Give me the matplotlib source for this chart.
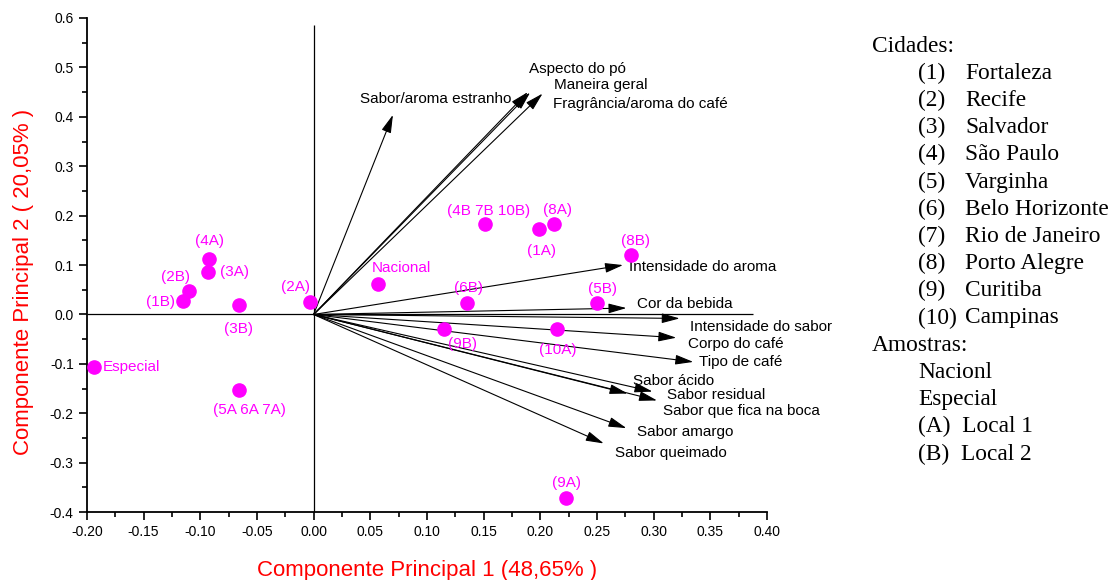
import matplotlib
matplotlib.use("Agg")
import matplotlib.pyplot as plt
from matplotlib.ticker import MultipleLocator

# ---------------- data ----------------
sample_names = ["Especial", "(1B)", "(2B)", "(4A)", "(3A)", "(3B)", "(2A)",
                "(5A 6A 7A)", "Nacional", "(4B 7B 10B)", "(1A)", "(8A)", "(8B)",
                "(6B)", "(5B)", "(9B)", "(10A)", "(9A)"]
sample_pc1 = [-0.194, -0.115, -0.110, -0.092, -0.093, -0.066, -0.003,
              -0.066, 0.057, 0.151, 0.199, 0.212, 0.280,
              0.135, 0.250, 0.115, 0.215, 0.223]
sample_pc2 = [-0.107, 0.027, 0.048, 0.113, 0.085, 0.019, 0.025,
              -0.152, 0.061, 0.184, 0.172, 0.184, 0.120,
              0.024, 0.023, -0.030, -0.030, -0.371]

attr_names = ["Sabor/aroma estranho", "Aspecto do pó", "Maneira geral",
              "Fragrância/aroma do café", "Intensidade do aroma", "Cor da bebida",
              "Intensidade do sabor", "Corpo do café", "Tipo de café",
              "Sabor ácido", "Sabor residual", "Sabor que fica na boca",
              "Sabor amargo", "Sabor queimado"]
attr_pc1 = [0.070, 0.189, 0.191, 0.202, 0.273, 0.276, 0.323, 0.320, 0.335,
            0.277, 0.299, 0.303, 0.276, 0.256]
attr_pc2 = [0.404, 0.450, 0.449, 0.447, 0.100, 0.013, -0.008, -0.047, -0.096,
            -0.160, -0.156, -0.174, -0.230, -0.261]

cities = ["(1)", "(2)", "(3)", "(4)", "(5)", "(6)", "(7)", "(8)", "(9)", "(10)"]
city_names = ["Fortaleza", "Recife", "Salvador", "São Paulo", "Varginha",
              "Belo Horizonte", "Rio de Janeiro", "Porto Alegre", "Curitiba", "Campinas"]
samples_legend = ["Nacionl", "Especial", "(A)  Local 1", "(B)  Local 2"]

xlabel = "Componente Principal 1 (48,65% )"
ylabel = "Componente Principal 2 ( 20,05% )"

# ---------------- label placement (style) ----------------
sample_lab_pos = [(-0.186, -0.107, "left"), (-0.135, 0.025, "center"), (-0.122, 0.076, "center"),
                  (-0.0915, 0.149, "center"), (-0.083, 0.085, "left"), (-0.066, -0.030, "center"),
                  (-0.016, 0.055, "center"), (-0.057, -0.193, "center"), (0.0512, 0.095, "left"),
                  (0.154, 0.209, "center"), (0.201, 0.128, "center"), (0.2154, 0.211, "center"),
                  (0.2836, 0.149, "center"), (0.137, 0.053, "center"), (0.255, 0.051, "center"),
                  (0.1315, -0.060, "center"), (0.2154, -0.0715, "center"), (0.2227, -0.341, "center")]
attr_lab_pos = [(0.041, 0.436), (0.190, 0.497), (0.212, 0.464), (0.2115, 0.425),
                (0.2786, 0.097), (0.2856, 0.021), (0.332, -0.025), (0.3306, -0.060),
                (0.340, -0.097), (0.282, -0.134), (0.312, -0.162), (0.3086, -0.195),
                (0.2856, -0.237), (0.266, -0.280)]

MAG = "#FF00FF"
SANS = ["Liberation Sans", "DejaVu Sans"]
SERIF = ["Liberation Serif", "DejaVu Serif"]

fig = plt.figure(figsize=(11.14, 5.80), dpi=100)
ax = fig.add_axes([0.078, 0.117, 0.6105, 0.852])

ax.set_xlim(-0.20, 0.40)
ax.set_ylim(-0.40, 0.60)

# zero reference lines
ax.vlines(0, -0.40, 0.586, color="black", lw=0.9, zorder=1)
ax.hlines(0, -0.20, 0.388, color="black", lw=0.9, zorder=1)

# loading arrows
for x, y in zip(attr_pc1, attr_pc2):
    ax.annotate("", xy=(x, y), xytext=(0, 0),
                arrowprops=dict(arrowstyle="-|>,head_length=1.1,head_width=0.3",
                                color="black", lw=0.8, shrinkA=0, shrinkB=0,
                                mutation_scale=10), zorder=2)
for name, (lx, ly) in zip(attr_names, attr_lab_pos):
    ax.text(lx, ly, name, ha="left", va="center", fontsize=11, family=SANS, color="black")

# samples
ax.plot(sample_pc1, sample_pc2, "o", color=MAG, ms=9.5, zorder=3, clip_on=False)
for name, (lx, ly, ha) in zip(sample_names, sample_lab_pos):
    ax.text(lx, ly, name, ha=ha, va="center", fontsize=11, family=SANS, color=MAG)

# axes style
for s in ["top", "right"]:
    ax.spines[s].set_visible(False)
for s in ["left", "bottom"]:
    ax.spines[s].set_linewidth(1.3)
ax.xaxis.set_major_locator(MultipleLocator(0.05))
ax.xaxis.set_minor_locator(MultipleLocator(0.025))
ax.yaxis.set_major_locator(MultipleLocator(0.1))
ax.yaxis.set_minor_locator(MultipleLocator(0.05))
ax.tick_params(which="major", direction="out", length=6, width=1.2, labelsize=10)
ax.tick_params(which="minor", direction="out", length=3.5, width=1.2)
ax.set_xticklabels([f"{v:.2f}" for v in ax.get_xticks()], family=SANS)
ax.set_yticklabels([f"{v:.1f}" for v in ax.get_yticks()], family=SANS)
ax.set_xlabel(xlabel, color="red", fontsize=16, family=SANS)
ax.set_ylabel(ylabel, color="red", fontsize=16, family=SANS)
ax.xaxis.set_label_coords(0.5, -0.097)
ax.yaxis.set_label_coords(-0.078, 0.466)

# legend text block
fs = 16.8
lh = 27.2 / 580
y0 = 1 - 46 / 580
fig.text(872 / 1114, y0, "Cidades:", ha="left", va="center", fontsize=fs, family=SERIF)
for i, (c, n) in enumerate(zip(cities, city_names)):
    yy = y0 - (i + 1) * lh
    fig.text(918 / 1114, yy, c, ha="left", va="center", fontsize=fs, family=SERIF)
    fig.text(965 / 1114, yy, n, ha="left", va="center", fontsize=fs, family=SERIF)
ya = y0 - (len(cities) + 1) * lh
fig.text(872 / 1114, ya, "Amostras:", ha="left", va="center", fontsize=fs, family=SERIF)
for i, t in enumerate(samples_legend):
    fig.text(918 / 1114, ya - (i + 1) * lh, t, ha="left", va="center", fontsize=fs, family=SERIF)

fig.savefig("out.png", dpi=100)
